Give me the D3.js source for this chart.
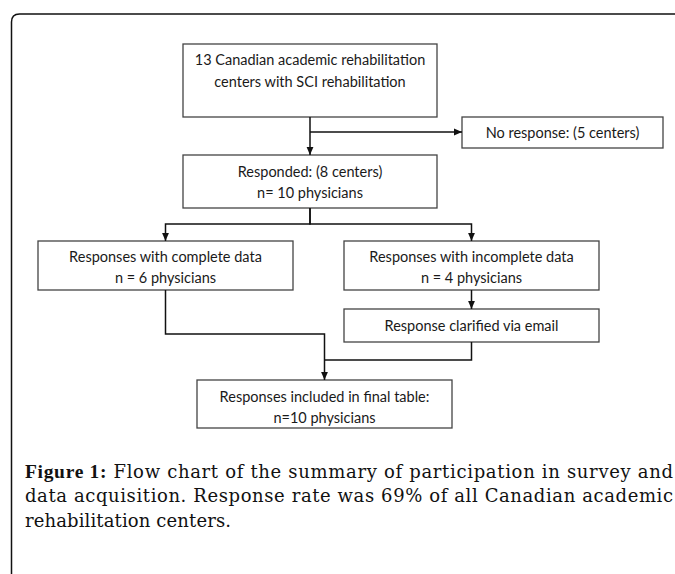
<!DOCTYPE html>
<html>
<head>
<meta charset="utf-8">
<script src="https://cdn.jsdelivr.net/npm/d3@7"></script>
<style>
  html, body { margin: 0; padding: 0; background: #fff; }
  svg { display: block; }
</style>
</head>
<body>
<div id="chart"></div>
<script>
// box texts (one entry per line)
const boxIds = ["centers", "noResponse", "responded", "complete", "incomplete", "clarified", "final"];
const boxLines = [
  ["13 Canadian academic rehabilitation", "centers with SCI rehabilitation"],
  ["No response: (5 centers)"],
  ["Responded: (8 centers)", "n= 10 physicians"],
  ["Responses with complete data", "n = 6 physicians"],
  ["Responses with incomplete data", "n = 4 physicians"],
  ["Response clarified via email"],
  ["Responses included in final table:", "n=10 physicians"]
];
// flow links: from -> to
const links = [
  ["centers", "responded"],
  ["centers", "noResponse"],
  ["responded", "complete"],
  ["responded", "incomplete"],
  ["incomplete", "clarified"],
  ["complete", "final"],
  ["clarified", "final"]
];
const captionBold = "Figure 1:";
const captionLines = [
  " Flow chart of the summary of participation in survey and",
  "data acquisition. Response rate was 69% of all Canadian academic",
  "rehabilitation centers."
];

const W = 675, H = 574;
const svg = d3.select("#chart").append("svg")
  .attr("width", W).attr("height", H);

// page frame (rounded top-left corner)
svg.append("path")
  .attr("d", "M11.5,574 V22 Q11.5,14 19.5,14 H675")
  .attr("fill", "none").attr("stroke", "#111").attr("stroke-width", 1.5);

// layout of the boxes
const layout = {
  centers:    {x: 183, y: 44,  w: 254, h: 73, ty: [60, 82]},
  noResponse: {x: 462, y: 117, w: 201, h: 31, ty: [133]},
  responded:  {x: 183, y: 155, w: 254, h: 53, ty: [172, 193]},
  complete:   {x: 38,  y: 241, w: 255, h: 49, ty: [257, 278]},
  incomplete: {x: 344, y: 241, w: 255, h: 49, ty: [257, 278]},
  clarified:  {x: 344, y: 309, w: 255, h: 33, ty: [325.5]},
  final:      {x: 197, y: 380, w: 255, h: 48, ty: [397, 418]}
};
const cx = id => layout[id].x + layout[id].w / 2;
const boxTop = id => layout[id].y;
const boxBottom = id => layout[id].y + layout[id].h;

const boxes = boxIds.map((id, i) => ({id, lines: boxLines[i], ...layout[id]}));

const g = svg.append("g");
const box = g.selectAll("g.box").data(boxes).join("g").attr("class", "box");
box.append("rect")
  .attr("x", d => d.x).attr("y", d => d.y)
  .attr("width", d => d.w).attr("height", d => d.h)
  .attr("fill", "#fff").attr("stroke", "#444").attr("stroke-width", 1.3);
box.selectAll("text").data(d => d.lines.map((t, j) => ({t, x: d.x + d.w / 2, y: d.ty[j]})))
  .join("text")
  .attr("x", d => d.x).attr("y", d => d.y)
  .attr("dy", "0.35em")
  .attr("text-anchor", "middle")
  .attr("font-family", "Lato, 'Liberation Sans', sans-serif")
  .attr("font-size", 14.5)
  .attr("fill", "#1a1a1a")
  .text(d => d.t);

// connectors: routed elbow paths
const branchY1 = 132;            // split to "no response"
const branchY2 = 224;            // split complete / incomplete
const mergeY1 = 334, mergeY2 = 360;
const mergeX = cx("final");

function route(from, to) {
  if (to === "noResponse") return [[cx(from), branchY1], [layout[to].x, branchY1]];
  if (from === "responded") return [[cx(from), boxBottom(from)], [cx(from), branchY2], [cx(to), branchY2], [cx(to), boxTop(to)]];
  if (from === "complete") return [[cx(from), boxBottom(from)], [cx(from), mergeY1], [mergeX, mergeY1], [mergeX, boxTop(to)]];
  if (from === "clarified") return [[cx(from), boxBottom(from)], [cx(from), mergeY2], [mergeX, mergeY2]];
  return [[cx(from), boxBottom(from)], [cx(to), boxTop(to)]];
}

svg.append("defs").append("marker")
  .attr("id", "arrow").attr("viewBox", "0 0 8 8")
  .attr("refX", 8).attr("refY", 4)
  .attr("markerWidth", 8).attr("markerHeight", 8)
  .attr("markerUnits", "userSpaceOnUse")
  .attr("orient", "auto")
  .append("path").attr("d", "M0,0.6 L8,4 L0,7.4 Z").attr("fill", "#111");

const line = d3.line();
g.selectAll("path.link").data(links).join("path")
  .attr("class", "link")
  .attr("d", d => line(route(d[0], d[1])))
  .attr("fill", "none").attr("stroke", "#111").attr("stroke-width", 1.5)
  .attr("marker-end", d => d[0] === "clarified" ? null : "url(#arrow)");

// caption
const cap = svg.append("g")
  .attr("font-family", "'DejaVu Serif', serif")
  .attr("font-size", 18)
  .attr("fill", "#111");
const capWidths = [648, 648, 206];
captionLines.forEach((t, i) => {
  const tx = cap.append("text").attr("x", 25).attr("y", 477.5 + i * 24.5)
    .attr("textLength", capWidths[i]).attr("lengthAdjust", "spacing");
  if (i === 0) tx.append("tspan")
    .attr("font-family", "'Liberation Serif', serif")
    .attr("font-size", 19.5)
    .attr("font-weight", "bold").text(captionBold);
  tx.append("tspan").text(t);
});
</script>
</body>
</html>
